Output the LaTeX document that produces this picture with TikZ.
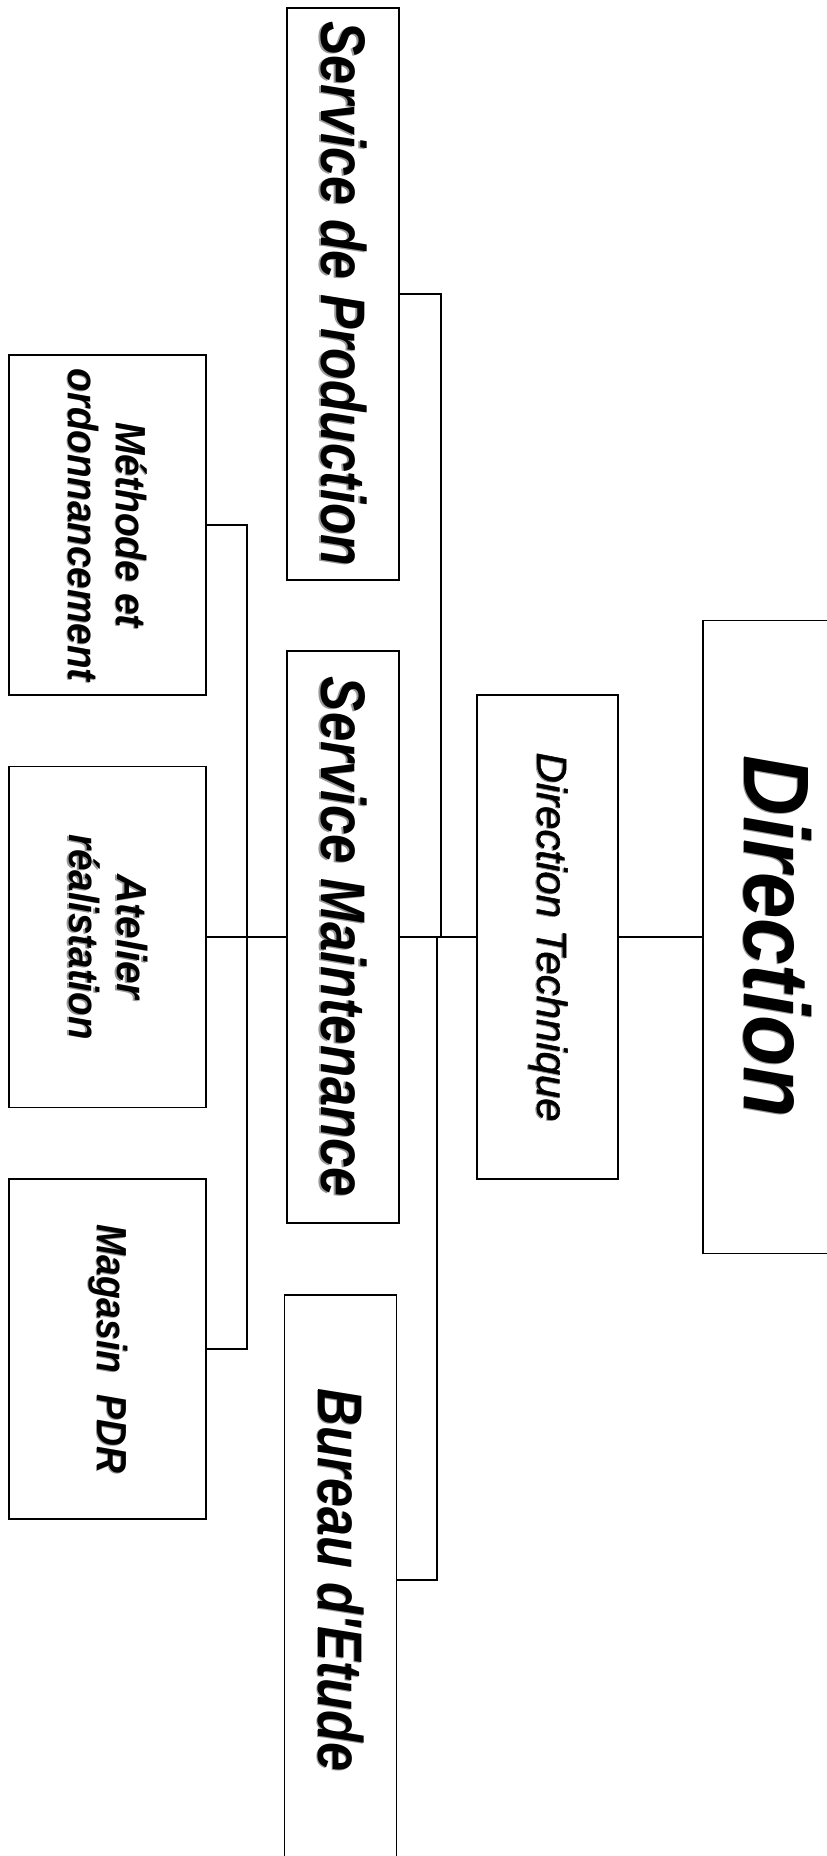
\documentclass[tikz,border=0pt]{standalone}
\usepackage{graphicx}
\usepackage{fontspec}
\newfontfamily\orgfont{Liberation Sans}
\newfontfamily\orgmed[FakeBold=1.2]{Liberation Sans}
% soft drop shadow behind a label
\newcommand\shd[1]{\rlap{\textcolor{black!40}{\kern0.8pt\raisebox{-1.2pt}{#1}}}#1}
% condensed label: stretch to a given length, keep the height
\newcommand\fitw[2]{\resizebox{#1pt}{\height}{\shd{#2}}}
\tikzset{
  unit/.style={draw=black, line width=1.7pt, fill=white, rotate=-90,
    inner sep=0pt, outer sep=0pt, align=center},
  big/.style={font=\orgfont\bfseries\itshape\fontsize{63}{70}\selectfont},
  mid/.style={font=\orgfont\bfseries\itshape\fontsize{42}{48}\selectfont},
  thin/.style={font=\orgmed\itshape\fontsize{42}{48}\selectfont},
  huge/.style={font=\orgfont\bfseries\itshape\fontsize{93}{100}\selectfont},
  conn/.style={draw=black, line width=1.4pt}
}
\begin{document}
\begin{tikzpicture}[x=1pt, y=1pt]
  \useasboundingbox (0,0) rectangle (827,-1856);
  \fill[white] (0,0) rectangle (827,-1856);
  \clip (0,0) rectangle (827,-1856);

  % top level
  \node[unit, huge, minimum width=633pt, minimum height=148pt] (dir) at (777,-937)
    {\fitw{362}{Direction}};
  \node[unit, thin, minimum width=484pt, minimum height=141pt] (dt) at (547.5,-937)
    {\fitw{369}{Direction Technique}};

  % services
  \node[unit, big, minimum width=572pt, minimum height=112pt] (sp) at (343,-294)
    {\fitw{545}{Service de Production}};
  \node[unit, big, minimum width=572pt, minimum height=112pt] (sm) at (343,-937)
    {\fitw{520}{Service Maintenance}};
  \node[unit, big, minimum width=570pt, minimum height=112pt] (be) at (340.5,-1580)
    {\fitw{383}{Bureau d'Etude}};

  % maintenance sections
  \node[unit, mid, minimum width=340pt, minimum height=197pt] (me) at (107.5,-525)
    {\fitw{206}{Méthode et}\\\fitw{313}{ordonnancement}};
  \node[unit, mid, minimum width=341pt, minimum height=197pt] (at) at (107.5,-937)
    {\fitw{125}{Atelier}\\\fitw{205}{réalistation}};
  \node[unit, mid, minimum width=340pt, minimum height=197pt] (ma) at (107.5,-1349)
    {\fitw{249}{Magasin\hspace{0.3em} PDR}};

  % bus lines
  \coordinate (busA) at (441,-937);
  \coordinate (busB) at (437,-937);
  \coordinate (busL) at (247,-937);

  \draw[conn] (dir.south) -- (dt.north);
  \draw[conn] (dt.south) -- (sm.north);
  \draw[conn] (sp.north) -| (busA);
  \draw[conn] (be.north) -| (busB);
  \draw[conn] (at.north) -- (sm.south);
  \draw[conn] (me.north) -| (busL);
  \draw[conn] (ma.north) -| (busL);
\end{tikzpicture}
\end{document}
